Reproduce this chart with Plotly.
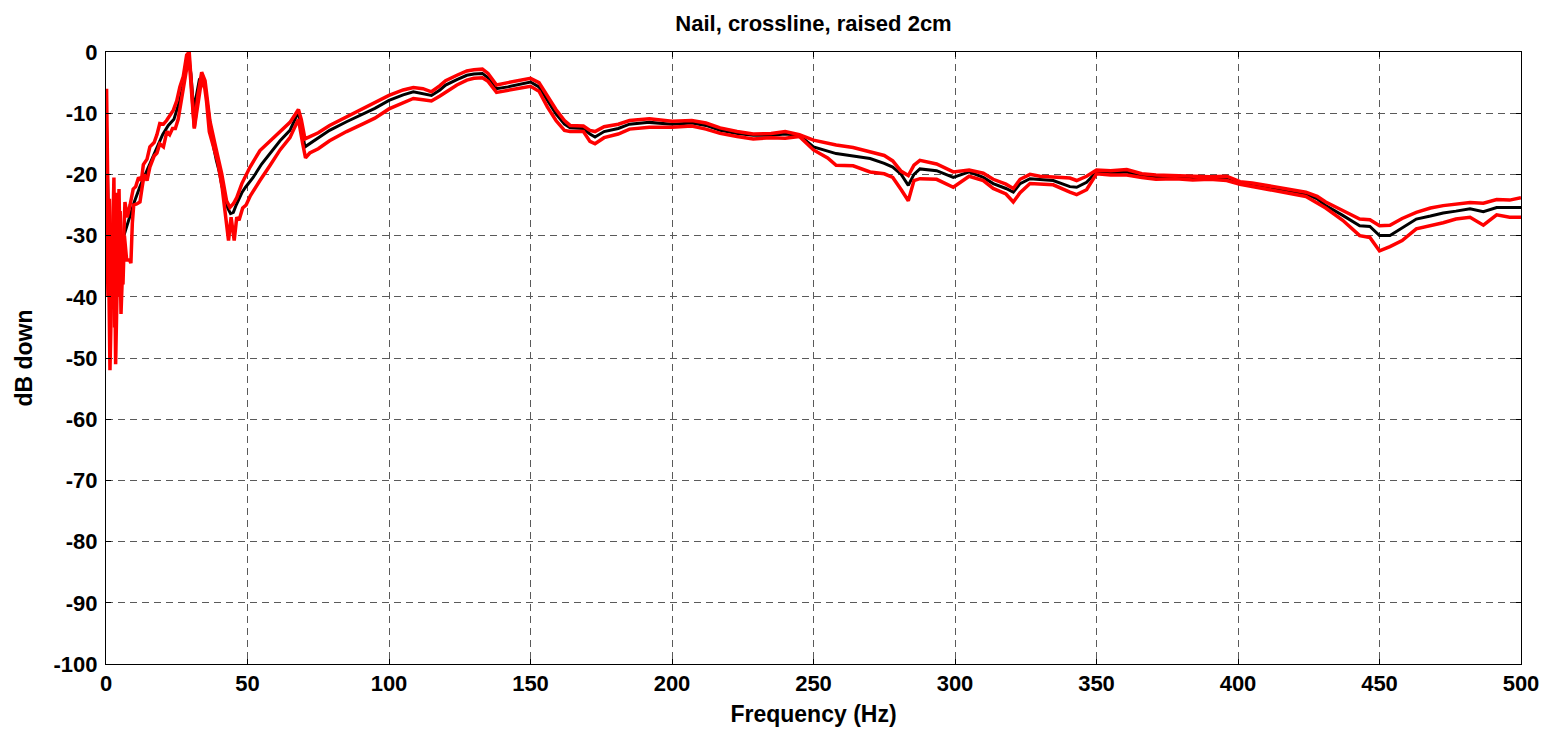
import plotly.graph_objects as go

# ---- Data ----
main_freq = [75, 79, 85, 91, 95, 100, 105, 108.6, 112, 115, 118, 120, 124, 127.5, 130, 133, 135, 138,
             142, 146, 150, 153, 156, 159, 162, 164, 168.7, 171, 172.8, 176, 181, 185, 192, 200, 207,
             212, 217, 223, 228.7, 235, 240, 245, 250, 255, 258, 264, 270, 275, 278, 281, 283.5, 285.5,
             287.6, 293.5, 299.4, 305, 310, 313.5, 318, 320.6, 323, 326.5, 330, 334.7, 340.6, 343,
             346.5, 350, 355, 360.7, 366, 371, 378, 384, 390, 396, 400.7, 405, 410, 417, 424, 428,
             431, 437, 443, 446.6, 450, 453.7, 458, 463, 468, 472.5, 477, 482, 486.7, 491.4, 496, 500]

main_mean = [-14.0, -12.8, -11.4, -10.1, -9.2, -7.9, -7.0, -6.5, -6.8, -7.1, -6.2, -5.4, -4.5, -3.8,
             -3.6, -3.5, -4.2, -6.0, -5.7, -5.3, -4.9, -5.7, -8.0, -10.1, -11.8, -12.4, -12.5, -13.4,
             -13.9, -13.0, -12.5, -11.8, -11.5, -11.8, -11.6, -12.0, -12.8, -13.3, -13.6, -13.6, -13.4,
             -13.6, -15.5, -16.2, -16.6, -17.0, -17.4, -18.2, -18.8, -20.0, -21.8, -20.0, -19.1, -19.4,
             -20.5, -19.6, -20.5, -21.5, -22.3, -22.9, -21.5, -20.7, -20.8, -21.0, -22.0, -22.1, -21.3,
             -19.6, -19.8, -19.6, -20.2, -20.5, -20.5, -20.6, -20.6, -20.5, -21.4, -21.8, -22.1, -22.7,
             -23.2, -24.0, -25.1, -26.7, -28.4, -28.5, -30.0, -30.0, -28.8, -27.3, -26.8, -26.3, -26.0,
             -25.6, -26.1, -25.4, -25.4, -25.4]

main_upper = [-13.2, -12.0, -10.6, -9.3, -8.4, -7.1, -6.2, -5.8, -6.0, -6.5, -5.5, -4.7, -3.8, -3.1,
              -2.9, -2.8, -3.5, -5.4, -5.0, -4.7, -4.3, -5.0, -7.2, -9.4, -11.2, -12.0, -12.1, -12.8,
              -13.0, -12.2, -11.8, -11.2, -10.9, -11.3, -11.2, -11.6, -12.4, -13.0, -13.4, -13.3, -13.0,
              -13.5, -14.4, -14.9, -15.2, -15.6, -16.3, -16.9, -17.8, -19.5, -20.2, -18.5, -17.7, -18.3,
              -19.6, -19.3, -19.8, -20.8, -21.6, -22.3, -20.8, -20.0, -20.3, -20.4, -20.6, -21.0, -20.3,
              -19.3, -19.4, -19.2, -19.9, -20.1, -20.2, -20.3, -20.4, -20.3, -21.2, -21.4, -21.8, -22.4,
              -22.9, -23.6, -24.5, -25.9, -27.3, -27.4, -28.4, -28.3, -27.2, -26.2, -25.5, -25.1, -24.8,
              -24.6, -24.7, -24.1, -24.2, -23.8]

main_lower = [-15.8, -14.5, -13.0, -11.7, -10.8, -9.3, -8.3, -7.6, -7.8, -8.0, -7.2, -6.6, -5.4, -4.6,
              -4.3, -4.2, -4.8, -6.6, -6.3, -6.0, -5.6, -6.4, -9.0, -11.2, -12.8, -13.0, -13.0, -14.6,
              -15.0, -14.0, -13.4, -12.6, -12.3, -12.3, -12.1, -12.6, -13.3, -13.8, -14.2, -14.0, -14.1,
              -13.8, -16.0, -17.3, -18.5, -18.6, -19.6, -19.9, -20.5, -22.5, -24.3, -21.0, -20.7, -20.8,
              -22.1, -20.3, -21.0, -22.3, -23.2, -24.5, -23.0, -21.5, -21.6, -21.7, -22.9, -23.3, -22.5,
              -19.9, -20.1, -20.1, -20.5, -20.8, -20.7, -20.9, -20.8, -21.0, -21.6, -22.0, -22.4, -23.0,
              -23.6, -24.6, -25.5, -27.5, -30.0, -30.3, -32.5, -31.8, -30.8, -28.9, -28.4, -27.9, -27.3,
              -27.0, -28.3, -26.6, -27.0, -27.0]

black_low_freq = [0, 1, 2, 3, 4, 5, 6, 7, 8, 9, 10, 12, 14, 16, 18, 20, 22, 24, 26, 27, 28, 29, 30, 31,
                  32, 33, 34, 35, 36, 37, 38, 39, 40, 41, 42, 43, 44, 45, 46, 47, 48, 49.3, 52, 55, 58,
                  61.5, 65, 68, 70.3, 72]
black_low_db = [-8, -30, -40, -30, -35, -32, -30.5, -29, -27.5, -26, -24.5, -22, -19.9, -17.5, -15.5,
                -13.5, -12, -11, -8, -6, -3, -0.5, -3.5, -9.5, -7, -4.5, -4, -5.5, -9, -12.5, -15.5,
                -17.7, -19.5, -22, -24, -25.5, -26.4, -26.2, -25, -24, -23, -22.1, -20.5, -18.3, -16.5,
                -14.5, -12.8, -9.8, -15.5, -15.0]

red1_low_freq = [0.2, 1.4, 2.8, 3.4, 4.6, 5.3, 6.7, 7.5, 8.5, 9.6, 10.5, 11.5, 12.5, 13.2, 14.5, 15.5,
                 17, 18, 19, 20.3, 21.4, 22.5, 23.8, 25, 26.1, 27.3, 28.5, 29.4, 30.2, 31.2, 32.5, 33.8,
                 35, 36.7, 38.5, 40.9, 42.6, 43.8, 45, 46.2, 48, 50.9, 54.4, 58, 61.5, 65, 68, 69, 70.3, 72]
red1_low_db = [-6, -52, -20.5, -51, -22.4, -42.8, -24.5, -27, -25, -22.4, -22, -20.5, -21, -18.4, -17.5,
               -15.5, -14.8, -13.5, -11.7, -11.8, -11.2, -10.5, -9.5, -8, -5.7, -4, -0.5, 0, -5, -12.3,
               -7, -3.3, -4.7, -11.2, -15, -19.9, -24.3, -25.4, -24.8, -23.8, -21.5, -18.8, -16.1, -14.5,
               -13.0, -11.5, -9.4, -11, -14.2, -13.8]

red2_low_freq = [0, 0.7, 1.2, 2.2, 2.6, 3.0, 3.8, 4.4, 5.0, 6.0, 6.5, 7.3, 8.3, 8.8, 9.3, 9.8, 11, 12,
                 12.8, 13.5, 14.5, 15.5, 17, 18, 19, 20.3, 21.5, 22.5, 23.5, 24.5, 25.5, 26.5, 27.5,
                 28.5, 29.3, 30.3, 31.2, 32, 33.3, 34.5, 35.5, 36.5, 38, 39.5, 41, 42.3, 43.3, 44.2,
                 45.3, 46.2, 47, 48.3, 49.5, 51, 52.5, 54.4, 58, 61.5, 65, 68, 69.5, 70.5, 72]
red2_low_db = [-20, -40, -24, -38, -28, -45, -23, -40, -26, -38, -30, -34, -34, -34.5, -28, -25, -24.8,
               -24.5, -22, -20, -21, -18.8, -17, -16.5, -15, -15.5, -13, -13.5, -12.5, -12.5, -11, -8,
               -5, -2, -0.5, -7, -12.5, -10, -6, -4.5, -8, -13, -15.5, -18, -22, -27, -30.8, -27, -30.8,
               -27, -27.5, -25.5, -25, -23.5, -22.5, -21, -18.5, -16, -14, -11, -15, -17.3, -16.5]

x_ticks = [0, 50, 100, 150, 200, 250, 300, 350, 400, 450, 500]
y_ticks = [0, -10, -20, -30, -40, -50, -60, -70, -80, -90, -100]

title_text = "Nail, crossline, raised 2cm"
x_title = "Frequency (Hz)"
y_title = "dB down"

# ---- Figure ----
FONT = "Liberation Sans, Arial, Helvetica, sans-serif"

fig = go.Figure()
fig.add_trace(go.Scatter(x=black_low_freq + main_freq, y=black_low_db + main_mean, mode="lines",
                         line=dict(color="black", width=3), showlegend=False))
fig.add_trace(go.Scatter(x=red1_low_freq + main_freq, y=red1_low_db + main_upper, mode="lines",
                         line=dict(color="#ff0000", width=3.5), showlegend=False))
fig.add_trace(go.Scatter(x=red2_low_freq + main_freq, y=red2_low_db + main_lower, mode="lines",
                         line=dict(color="#ff0000", width=3.5), showlegend=False))

axis_common = dict(
    showline=True, linecolor="black", linewidth=1, mirror="ticks",
    ticks="inside", ticklen=5, tickcolor="black", tickwidth=1,
    showgrid=True, gridcolor="#5a5a5a", gridwidth=1, griddash="7px,5px",
    zeroline=False, automargin=False,
    tickfont=dict(family=FONT, size=22, color="black", weight="bold"),
)

fig.update_layout(
    width=1547, height=735,
    margin=dict(l=106, r=26, t=52, b=71),
    paper_bgcolor="white", plot_bgcolor="white",
    title=dict(text=title_text, x=(106 + 1521) / 2 / 1547, xanchor="center", y=1 - 23 / 735,
               yanchor="middle", font=dict(family=FONT, size=22, color="black", weight="bold")),
    xaxis=dict(axis_common, range=[0, 500], tickvals=x_ticks, ticktext=[str(v) for v in x_ticks],
               title=dict(text=x_title, standoff=10,
                          font=dict(family=FONT, size=23, color="black", weight="bold"))),
    yaxis=dict(axis_common, range=[-100, 0], tickvals=y_ticks, ticktext=[str(v) for v in y_ticks],
               ticklabelstandoff=3,
               title=dict(text=y_title, standoff=14,
                          font=dict(family=FONT, size=23, color="black", weight="bold"))),
)

fig.write_html("out.html")
